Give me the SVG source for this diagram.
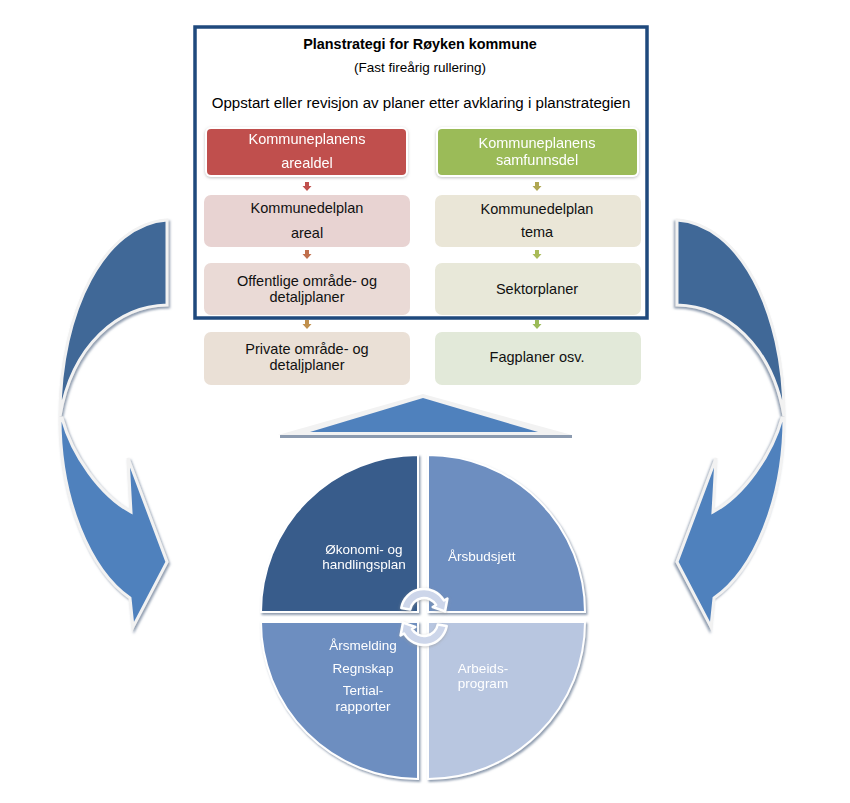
<svg xmlns="http://www.w3.org/2000/svg" width="850" height="803" viewBox="0 0 850 803">
<defs>
<filter id="sh" x="-10%" y="-10%" width="130%" height="130%">
<feDropShadow dx="1.5" dy="2" stdDeviation="1.2" flood-color="#6b7d95" flood-opacity="0.75"/>
</filter>
<filter id="glow" x="-10%" y="-20%" width="120%" height="140%">
<feDropShadow dx="0" dy="1" stdDeviation="1.5" flood-color="#999" flood-opacity="0.6"/>
</filter>
<style>
text{font-family:"Liberation Sans",Arial,sans-serif;}
.t{font-size:14.5px;fill:#111;text-anchor:middle;}
.w{font-size:14.5px;fill:#fff;text-anchor:middle;}
.p{font-size:13.5px;fill:#fff;text-anchor:middle;}
.ps{font-size:13.5px;fill:#fff;text-anchor:start;}
.box{stroke:none;}
.curve{stroke:#f2f2f2;stroke-width:3;stroke-linejoin:miter;}
.quad{stroke:#fff;stroke-width:2;}
.cyc{fill:#cdd6ea;stroke:#fff;stroke-width:2.5;stroke-linejoin:round;}
</style>
</defs>
<rect width="850" height="803" fill="#fff"/>

<!-- curved arrows -->
<g id="left-arrow" filter="url(#sh)">
<path class="curve" fill="#3f6797" d="M167,220 L167,305 C118,306 72,345 60,416 C60,310 105,224 167,220 Z"/>
<path class="curve" fill="#4f81bd" d="M60,418 C60,500 90,570 130,598 L133,627 L167,562 L128,458 L131,512 C100,495 72,455 62,418 Z"/>
</g>
<g id="right-arrow" filter="url(#sh)" transform="translate(844,0) scale(-1,1)">
<path class="curve" fill="#3f6797" d="M167,220 L167,305 C118,306 72,345 60,416 C60,310 105,224 167,220 Z"/>
<path class="curve" fill="#4f81bd" d="M60,418 C60,500 90,570 130,598 L133,627 L167,562 L128,458 L131,512 C100,495 72,455 62,418 Z"/>
</g>

<!-- top frame -->
<g id="frame">
<rect x="195" y="27" width="452" height="291" fill="#fff" stroke="none"/>
<text x="420" y="49" text-anchor="middle" font-size="14.4" font-weight="bold" fill="#000">Planstrategi for Røyken kommune</text>
<text x="420" y="72" text-anchor="middle" font-size="13.5" fill="#000">(Fast fireårig rullering)</text>
<text x="421" y="108" text-anchor="middle" font-size="15.1" fill="#000">Oppstart eller revisjon av planer etter avklaring i planstrategien</text>
</g>

<g id="kp-arealdel" filter="url(#glow)">
<rect x="205" y="127" width="203" height="50" rx="6" fill="#fff"/>
<rect x="207" y="129" width="199" height="46" rx="4" fill="#c0504d"/>
<text class="w" x="307" y="144">Kommuneplanens</text>
<text class="w" x="307" y="168">arealdel</text>
</g>
<g id="kdp-areal">
<rect class="box" x="204" y="195" width="206" height="52" rx="7" fill="#e8d3d2"/>
<text class="t" x="307" y="213">Kommunedelplan</text>
<text class="t" x="307" y="238">areal</text>
</g>
<g id="offentlige">
<rect class="box" x="204" y="263" width="206" height="52" rx="7" fill="#eadad6"/>
<text class="t" x="307" y="286">Offentlige område- og</text>
<text class="t" x="307" y="302">detaljplaner</text>
</g>
<g id="private">
<rect class="box" x="204" y="332" width="206" height="53" rx="7" fill="#eae0d6"/>
<text class="t" x="307" y="354">Private område- og</text>
<text class="t" x="307" y="370">detaljplaner</text>
</g>

<g id="kp-samfunnsdel" filter="url(#glow)">
<rect x="436" y="127" width="203" height="50" rx="6" fill="#fff"/>
<rect x="438" y="129" width="199" height="46" rx="4" fill="#9bbb59"/>
<text class="w" x="537" y="148">Kommuneplanens</text>
<text class="w" x="537" y="165">samfunnsdel</text>
</g>
<g id="kdp-tema">
<rect class="box" x="435" y="195" width="206" height="52" rx="7" fill="#eae6d7"/>
<text class="t" x="537" y="214">Kommunedelplan</text>
<text class="t" x="537" y="237">tema</text>
</g>
<g id="sektorplaner">
<rect class="box" x="435" y="263" width="206" height="52" rx="7" fill="#e8e8d9"/>
<text class="t" x="537" y="294">Sektorplaner</text>
</g>
<g id="fagplaner">
<rect class="box" x="435" y="332" width="206" height="53" rx="7" fill="#e2e9d9"/>
<text class="t" x="537" y="362">Fagplaner osv.</text>
</g>

<rect id="frame-border" x="195" y="27" width="452" height="291" fill="none" stroke="#1f497d" stroke-width="3.5"/>

<!-- connectors -->
<g id="connectors">
<path fill="#c0504d" d="M305,182 H309 V186 H311.5 L307,191 L302.5,186 H305 Z"/>
<path fill="#c0704d" d="M305,250 H309 V254 H311.5 L307,259 L302.5,254 H305 Z"/>
<path fill="#c0904d" d="M305,320 H309 V324 H311.5 L307,329 L302.5,324 H305 Z"/>
<path fill="#b0a752" d="M535,182 H539 V186 H541.5 L537,191 L532.5,186 H535 Z"/>
<path fill="#a9bb59" d="M535,250 H539 V254 H541.5 L537,259 L532.5,254 H535 Z"/>
<path fill="#9bbb59" d="M535,320 H539 V324 H541.5 L537,329 L532.5,324 H535 Z"/>
</g>

<!-- triangle -->
<g id="triangle">
<rect x="280" y="435" width="292" height="3" fill="#8c9bb0"/>
<polygon points="423,394 278,435 572,435" fill="#f2f2f2"/>
<polygon points="423,398 310,432 538,432" fill="#4f81bd"/>
</g>

<!-- cycle pie -->
<g id="pie" filter="url(#sh)">
<g id="q-okonomi">
<path class="quad" fill="#395c8b" d="M418,612 L261,612 A157,157 0 0 1 418,455 Z"/>
<text class="p" x="364" y="554">Økonomi- og</text>
<text class="p" x="364" y="569">handlingsplan</text>
</g>
<g id="q-arsbudsjett">
<path class="quad" fill="#6d8ec0" d="M428,612 L428,455 A157,157 0 0 1 585,612 Z"/>
<text class="ps" x="448" y="561">Årsbudsjett</text>
</g>
<g id="q-arsmelding">
<path class="quad" fill="#6d8ec0" d="M418,622 L418,779 A157,157 0 0 1 261,622 Z"/>
<text class="p" x="363" y="650">Årsmelding</text>
<text class="p" x="363" y="673">Regnskap</text>
<text class="p" x="363" y="695">Tertial-</text>
<text class="p" x="363" y="711">rapporter</text>
</g>
<g id="q-arbeidsprogram">
<path class="quad" fill="#b8c6e0" d="M428,622 L585,622 A157,157 0 0 1 428,779 Z"/>
<text class="p" x="483" y="673">Arbeids-</text>
<text class="p" x="483" y="688">program</text>
</g>
</g>
<g id="cycle-arrows" filter="url(#glow)">
<path class="cyc" d="M401.3,608 A23,23 0 0 1 443.9,600.5 L447.4,598.5 L445,611.4 L432.7,607 L436.1,605 A14,14 0 0 0 410.2,609.6 Z"/>
<path class="cyc" transform="rotate(180 424 617)" d="M401.3,608 A23,23 0 0 1 443.9,600.5 L447.4,598.5 L445,611.4 L432.7,607 L436.1,605 A14,14 0 0 0 410.2,609.6 Z"/>
</g>
</svg>
